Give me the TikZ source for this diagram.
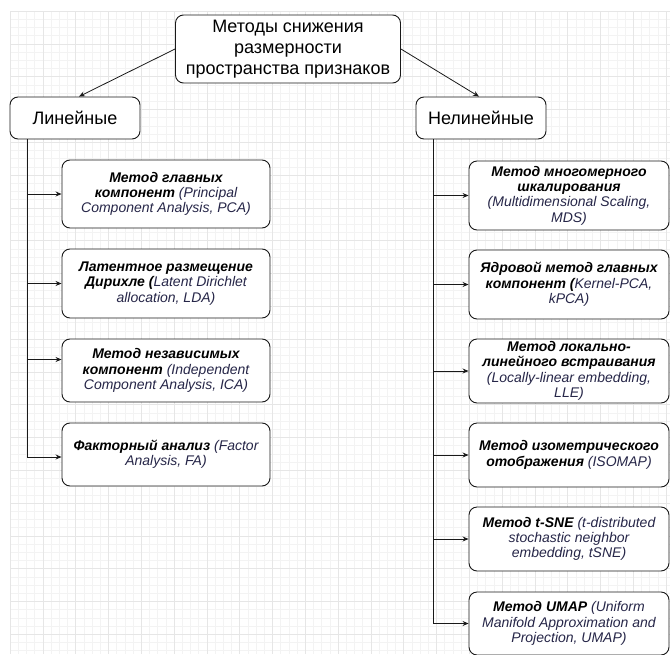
\documentclass[tikz,border=0pt]{standalone}
\usepackage{fontspec}
\setmainfont{Liberation Sans}
\usetikzlibrary{arrows.meta}
\definecolor{engtext}{RGB}{38,38,72}
\definecolor{gridminor}{RGB}{243,243,243}
\definecolor{gridmajor}{RGB}{230,230,230}
\newcommand{\nm}[1]{{\color{black}\bfseries #1}}

\begin{document}
\begin{tikzpicture}
  [x=1pt,y=-1pt,
   box/.style={draw=black!90,line width=0.9pt,rounded corners=8pt,fill=white,inner sep=2pt,align=center},
   head/.style={box,font=\fontsize{18}{21}\selectfont},
   kid/.style={box,font=\fontsize{14}{15.3}\selectfont\itshape,text=engtext},
   arr/.style={draw=black!90,line width=0.8pt,-{Stealth[length=6pt,width=5pt]}}]
  \useasboundingbox (0,0) rectangle (670,654);
  % background grid
  \foreach \x in {10,18.2,...,670} \draw[gridminor] (\x,11) -- (\x,654);
  \foreach \y in {11,19.2,...,654} \draw[gridminor] (10,\y) -- (670,\y);
  \foreach \x in {10,42.8,...,670} \draw[gridmajor] (\x,11) -- (\x,654);
  \foreach \y in {11,43.8,...,654} \draw[gridmajor] (10,\y) -- (670,\y);

  \node[head,minimum width=225pt,minimum height=68pt] (top) at (288,49)
    {Методы снижения\\размерности\\пространства признаков};
  \node[head,minimum width=130pt,minimum height=42pt] (lin) at (75,118) {Линейные};
  \node[head,minimum width=130pt,minimum height=42pt] (nonlin) at (481,118) {Нелинейные};

  \node[kid,minimum width=208pt,minimum height=68pt] (pca) at (166,194)
    {\nm{Метод главных}\\\nm{компонент} (Principal\\Component Analysis, PCA)};
  \node[kid,minimum width=208pt,minimum height=69pt] (lda) at (166,283.5)
    {\nm{Латентное размещение}\\\nm{Дирихле (}Latent Dirichlet\\allocation, LDA)};
  \node[kid,minimum width=208pt,minimum height=63pt] (ica) at (166,370.5)
    {\nm{Метод независимых}\\\nm{компонент} (Independent\\Component Analysis, ICA)};
  \node[kid,minimum width=208pt,minimum height=63pt] (fa) at (166,454.5)
    {\nm{Факторный анализ} (Factor\\Analysis, FA)};

  \node[kid,minimum width=200pt,minimum height=69pt] (mds) at (569,195.5)
    {\nm{Метод многомерного}\\\nm{шкалирования}\\(Multidimensional Scaling,\\MDS)};
  \node[kid,minimum width=200pt,minimum height=69pt] (kpca) at (569,284.5)
    {\nm{Ядровой метод главных}\\\nm{компонент (}Kernel-PCA,\\kPCA)};
  \node[kid,minimum width=200pt,minimum height=64pt] (lle) at (569,371)
    {\nm{Метод локально-}\\\nm{линейного встраивания}\\(Locally-linear embedding,\\LLE)};
  \node[kid,minimum width=200pt,minimum height=64pt] (isomap) at (569,455)
    {\nm{Метод изометрического}\\\nm{отображения} (ISOMAP)};
  \node[kid,minimum width=200pt,minimum height=64pt] (tsne) at (569,539)
    {\nm{Метод t-SNE} (t-distributed\\stochastic neighbor\\embedding, tSNE)};
  \node[kid,minimum width=200pt,minimum height=63pt] (umap) at (569,623.5)
    {\nm{Метод UMAP} (Uniform\\Manifold Approximation and\\Projection, UMAP)};

  \draw[arr] (top.west) -- ([xshift=4pt]lin.north);
  \draw[arr] (top.east) -- ([xshift=-2pt]nonlin.north);

  \coordinate (ltop) at ([xshift=18pt]lin.south west);
  \coordinate (rtop) at ([xshift=18pt]nonlin.south west);
  \foreach \k in {pca,lda}
    \draw[arr] (ltop) |- (\k.west);
  \draw[arr] (ltop) |- ([yshift=11pt]ica.west);
  \draw[arr] (ltop) |- ([yshift=-2.5pt]fa.west);
  \foreach \k in {mds,kpca,lle,isomap,tsne,umap}
    \draw[arr] (rtop) |- (\k.west);
\end{tikzpicture}
\end{document}
